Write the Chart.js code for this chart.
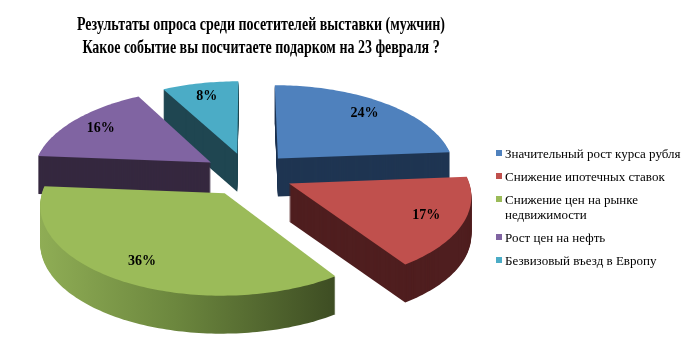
<!DOCTYPE html>
<html lang="ru">
<head>
<meta charset="utf-8">
<title>Результаты опроса</title>
<script src="https://cdn.jsdelivr.net/npm/chart.js@4.4.1/dist/chart.umd.min.js"></script>
<style>
    html, body {
        margin: 0;
        padding: 0;
        background: #ffffff;
    }
    canvas {
        display: block;
    }
</style>
</head>
<body>
<canvas id="surveyChart" width="699" height="364"></canvas>
<script>
    const titleLines = [
        'Результаты опроса среди посетителей выставки (мужчин)',
        'Какое событие вы посчитаете подарком на 23 февраля ?'
    ];
    const categories = [
        'Значительный рост курса рубля',
        'Снижение ипотечных ставок',
        'Снижение цен на рынке недвижимости',
        'Рост цен на нефть',
        'Безвизовый въезд в Европу'
    ];
    const shares = [24, 17, 36, 16, 8];

    const topColors = ['#4F81BD', '#C0504D', '#9BBB59', '#8064A2', '#4BACC6'];
    const sideColors = ['#1F3552', '#4F1E1F', null, '#35283F', '#1F4651'];

    // параметры "объёмной" диаграммы
    const TILT = 0.48;
    const VIEW_DIST = 1500;
    const EXPLODE = 45;
    const DEPTH = 38;
    const LABEL_POS = 0.8;

    class SurveyChart {
        constructor() {
            this.canvas = document.getElementById('surveyChart');
            this.createChart();
        }

        project(cx, cy, u, v) {
            const s = VIEW_DIST / (VIEW_DIST - v);
            return [cx + u * s, cy + v * TILT * s];
        }

        shift(arc) {
            const mid = (arc.startAngle + arc.endAngle) / 2;
            return [Math.cos(mid) * EXPLODE, Math.sin(mid) * EXPLODE];
        }

        wedgePath(ctx, arc, drop) {
            const [ox, oy] = this.shift(arc);
            let p = this.project(arc.x, arc.y, ox, oy);
            ctx.beginPath();
            ctx.moveTo(p[0], p[1] + drop);
            const span = arc.endAngle - arc.startAngle;
            const steps = Math.max(2, Math.ceil(span / 0.02));
            for (let i = 0; i <= steps; i++) {
                const t = arc.startAngle + span * i / steps;
                p = this.project(arc.x, arc.y, ox + Math.cos(t) * arc.outerRadius, oy + Math.sin(t) * arc.outerRadius);
                ctx.lineTo(p[0], p[1] + drop);
            }
            ctx.closePath();
        }

        sideFill(ctx, index) {
            if (sideColors[index]) {
                return sideColors[index];
            }
            const grad = ctx.createLinearGradient(40, 0, 340, 0);
            grad.addColorStop(0, '#8FAD55');
            grad.addColorStop(0.45, '#6C873E');
            grad.addColorStop(1, '#3C4B22');
            return grad;
        }

        drawPie(chart) {
            const ctx = chart.ctx;
            const arcs = chart.getDatasetMeta(0).data;
            const order = arcs.map((a, i) => i)
                .sort((a, b) => Math.sin((arcs[a].startAngle + arcs[a].endAngle) / 2) - Math.sin((arcs[b].startAngle + arcs[b].endAngle) / 2));

            ctx.save();
            // боковые стенки
            order.forEach(i => {
                ctx.fillStyle = this.sideFill(ctx, i);
                for (let d = DEPTH; d >= 1; d--) {
                    this.wedgePath(ctx, arcs[i], d);
                    ctx.fill();
                }
            });
            // верхние грани
            order.forEach(i => {
                this.wedgePath(ctx, arcs[i], 0);
                ctx.fillStyle = topColors[i];
                ctx.fill();
            });

            // подписи с процентами
            ctx.fillStyle = '#000000';
            ctx.font = 'bold 14px "Liberation Serif"';
            ctx.textAlign = 'center';
            ctx.textBaseline = 'middle';
            arcs.forEach((arc, i) => {
                const mid = (arc.startAngle + arc.endAngle) / 2;
                const [ox, oy] = this.shift(arc);
                const r = arc.outerRadius * LABEL_POS;
                const p = this.project(arc.x, arc.y, ox + Math.cos(mid) * r, oy + Math.sin(mid) * r);
                ctx.fillText(shares[i] + '%', p[0], p[1]);
            });
            ctx.restore();
        }

        drawTitle(chart) {
            const ctx = chart.ctx;
            ctx.save();
            ctx.font = 'bold 19px "Liberation Serif"';
            ctx.fillStyle = '#000000';
            ctx.textAlign = 'center';
            ctx.textBaseline = 'alphabetic';
            const squeeze = 368 / ctx.measureText(titleLines[0]).width;
            const baselines = [30, 53];
            titleLines.forEach((line, i) => {
                ctx.save();
                ctx.translate(261, baselines[i]);
                ctx.scale(squeeze, 1);
                ctx.fillText(line, 0, 0);
                ctx.restore();
            });
            ctx.restore();
        }

        wrap(ctx, text, maxWidth) {
            const words = text.split(' ');
            const lines = [];
            let line = '';
            words.forEach(word => {
                const test = line ? line + ' ' + word : word;
                if (line && ctx.measureText(test).width > maxWidth) {
                    lines.push(line);
                    line = word;
                } else {
                    line = test;
                }
            });
            lines.push(line);
            return lines;
        }

        drawLegend(chart) {
            const ctx = chart.ctx;
            ctx.save();
            ctx.font = '13px "Liberation Serif"';
            ctx.textAlign = 'left';
            ctx.textBaseline = 'alphabetic';
            let y = 158;
            categories.forEach((name, i) => {
                ctx.fillStyle = topColors[i];
                ctx.fillRect(496, y - 8, 6, 6);
                ctx.fillStyle = '#000000';
                const lines = this.wrap(ctx, name, 188);
                lines.forEach((line, j) => {
                    ctx.fillText(line, 505, y + j * 15);
                });
                y += (lines.length - 1) * 15 + 23;
            });
            ctx.restore();
        }

        createChart() {
            const self = this;
            const pie3d = {
                id: 'pie3d',
                beforeDatasetsDraw(chart) {
                    self.drawPie(chart);
                    return false;
                },
                afterDraw(chart) {
                    self.drawTitle(chart);
                    self.drawLegend(chart);
                }
            };

            this.chart = new Chart(this.canvas, {
                type: 'pie',
                data: {
                    labels: categories,
                    datasets: [{
                        data: shares,
                        backgroundColor: topColors,
                        borderWidth: 0
                    }]
                },
                options: {
                    responsive: false,
                    animation: false,
                    radius: 178,
                    layout: {
                        padding: {left: 0, right: 203, top: 0, bottom: 16}
                    },
                    plugins: {
                        legend: {display: false},
                        title: {display: false},
                        tooltip: {enabled: false}
                    }
                },
                plugins: [pie3d]
            });
        }
    }

    new SurveyChart();
</script>
</body>
</html>
